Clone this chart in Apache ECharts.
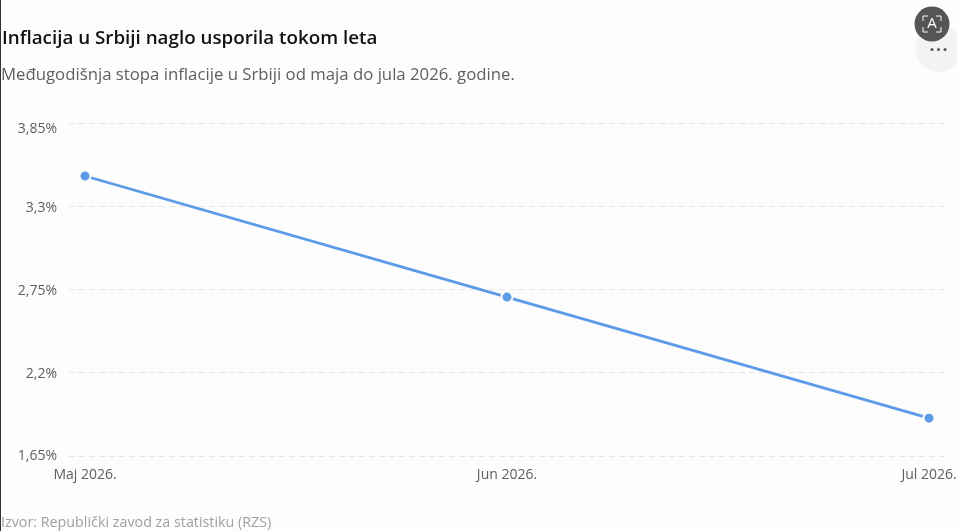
<!DOCTYPE html>
<html><head><meta charset="utf-8">
<style>html,body{margin:0;padding:0;background:#fdfdfd}#c{width:957px;height:531px}</style>
<script src="https://cdn.jsdelivr.net/npm/echarts@6/dist/echarts.min.js"></script>
</head><body><div id="c"></div>
<script>
const categories = ['Maj 2026.', 'Jun 2026.', 'Jul 2026.'];
const inflation = [3.5, 2.7, 1.9];
const yTicks = [1.65, 2.2, 2.75, 3.3, 3.85];
const titleText = 'Inflacija u Srbiji naglo usporila tokom leta';
const subtitleText = 'Međugodišnja stopa inflacije u Srbiji od maja do jula 2026. godine.';
const sourceText = 'Izvor: Republički zavod za statistiku (RZS)';
const font = '"Open Sans", "Noto Sans", sans-serif';
const chart = echarts.init(document.getElementById('c'), null, {renderer: 'canvas'});
const labelStyle = {color: '#605e5c', fontFamily: font, fontSize: 14};
chart.setOption({
  backgroundColor: '#fdfdfd',
  animation: false,
  grid: {left: 69, right: 13, top: 123, bottom: 75, containLabel: false, outerBoundsMode: 'none'},
  xAxis: {
    type: 'value', min: -16/422, max: 2 + 15/422,
    axisLine: {show: false}, axisTick: {show: false}, splitLine: {show: false},
    axisLabel: {
      customValues: [0, 1, 2], showMinLabel: true, showMaxLabel: true, hideOverlap: false,
      formatter: v => categories[Math.round(v)],
      color: '#605e5c', fontFamily: font, fontSize: 14, margin: 12
    }
  },
  yAxis: {
    type: 'value', min: 1.65, max: 3.85, interval: 0.55,
    axisLine: {show: false}, axisTick: {show: false},
    splitLine: {show: true, lineStyle: {color: '#e6e6e6', type: [6, 4], width: 1}},
    axisLabel: {
      formatter: v => {
        const t = String(+v.toFixed(2)).replace('.', ',') + '%';
        if (v > 3.8) return '{top|' + t + '}';
        if (v < 1.7) return '{low|' + t + '}';
        return '{mid|' + t + '}';
      },
      customValues: yTicks,
      verticalAlign: 'top',
      rich: {
        top: Object.assign({lineHeight: 12}, labelStyle),
        mid: Object.assign({lineHeight: 3}, labelStyle),
        low: Object.assign({lineHeight: 1}, labelStyle)
      },
      color: '#605e5c', fontFamily: font, fontSize: 14, margin: 12
    }
  },
  series: [{
    type: 'line', data: inflation.map((v, i) => [i, v]),
    symbol: 'circle', symbolSize: 11, showSymbol: true,
    lineStyle: {color: '#5b9be8', width: 2.8},
    itemStyle: {color: '#5b9be8', borderColor: '#fdfdfd', borderWidth: 2}
  }],
  graphic: [
    {type: 'rect', shape: {x: 0, y: 0, width: 1, height: 531}, style: {fill: '#333'}},
    {type: 'text', left: 2, top: 29, style: {text: titleText, font: '600 18.8px ' + font, fill: '#111'}},
    {type: 'text', left: 1, top: 67, style: {text: subtitleText, font: '400 16.75px ' + font, fill: '#605e5c'}},
    {type: 'text', left: 1, top: 516, style: {text: sourceText, font: '400 14.3px ' + font, fill: '#a0a0a0'}},
    {type: 'circle', shape: {cx: 939, cy: 48, r: 24}, style: {fill: '#f3f3f3'}},
    {type: 'circle', shape: {cx: 932, cy: 49.5, r: 1.5}, style: {fill: '#555'}},
    {type: 'circle', shape: {cx: 938.5, cy: 49.5, r: 1.5}, style: {fill: '#555'}},
    {type: 'circle', shape: {cx: 945, cy: 49.5, r: 1.5}, style: {fill: '#555'}},
    {type: 'circle', shape: {cx: 932, cy: 24, r: 17.5}, style: {fill: '#555555'}},
    {type: 'text', x: 932, y: 24, style: {text: 'A', font: '15px ' + font, fill: '#fff', align: 'center', verticalAlign: 'middle'}},
    {type: 'polyline', shape: {points: [[923, 21], [923, 16], [928, 16]]}, style: {stroke: '#fff', lineWidth: 1, fill: 'none'}},
    {type: 'polyline', shape: {points: [[936, 16], [941, 16], [941, 21]]}, style: {stroke: '#fff', lineWidth: 1, fill: 'none'}},
    {type: 'polyline', shape: {points: [[923, 27], [923, 32], [928, 32]]}, style: {stroke: '#fff', lineWidth: 1, fill: 'none'}},
    {type: 'polyline', shape: {points: [[936, 32], [941, 32], [941, 27]]}, style: {stroke: '#fff', lineWidth: 1, fill: 'none'}}
  ]
});
</script></body></html>
